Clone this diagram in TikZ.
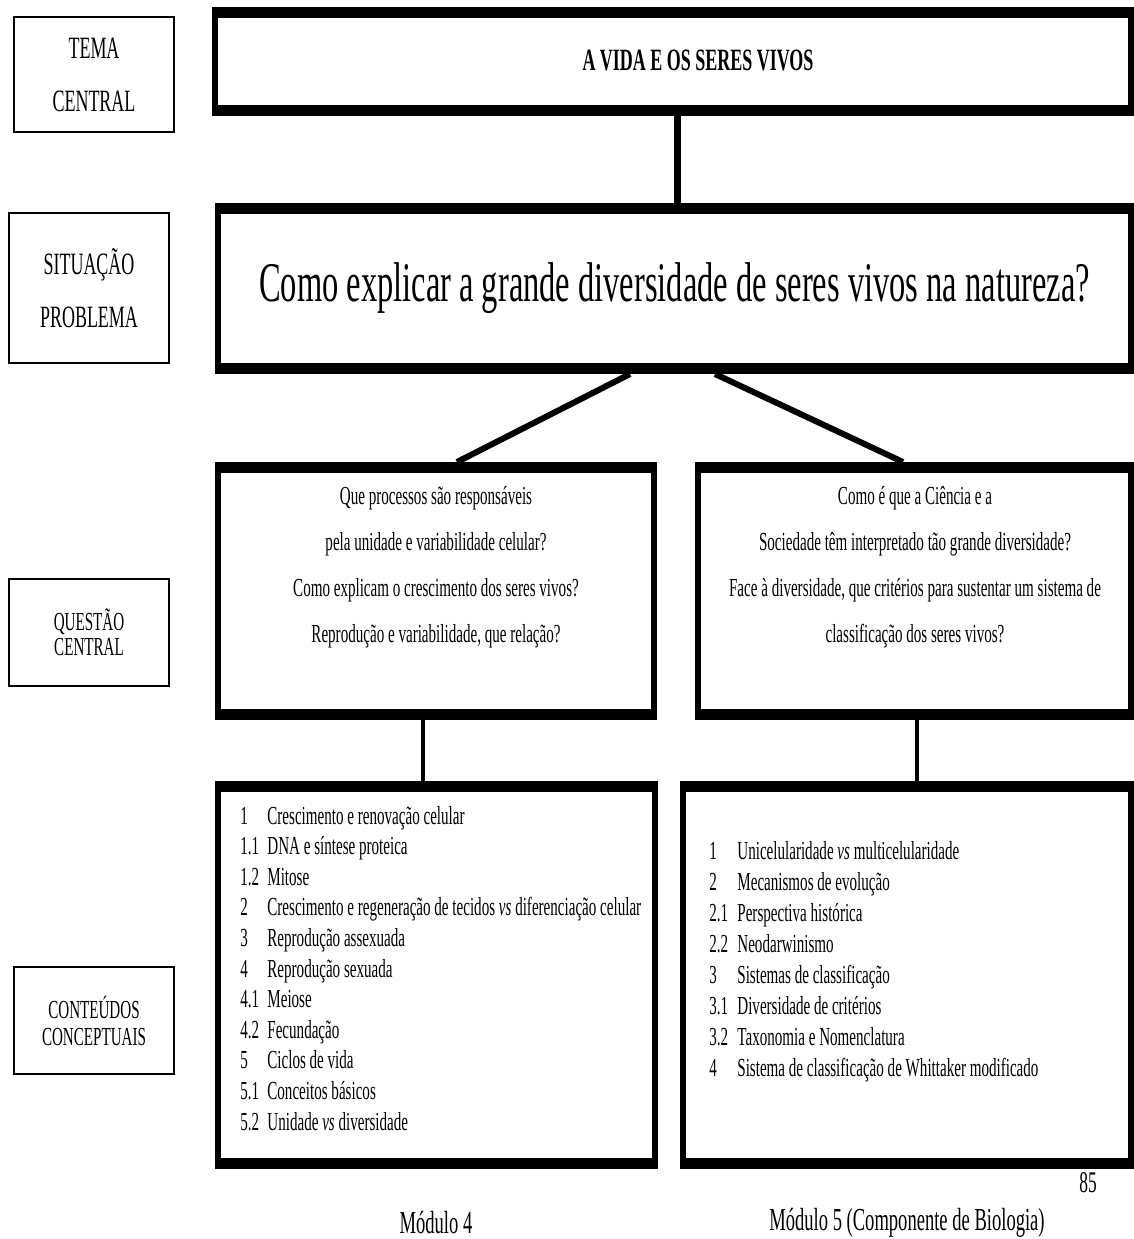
\documentclass[tikz,border=0pt]{standalone}
\usepackage{fontspec}
\setmainfont{Liberation Serif}[FakeStretch=0.58]

\tikzset{
  lbl/.style={draw, line width=1pt, inner sep=0pt, align=center, minimum width=80pt},
  thickbox/.style={draw, line width=3pt, inner sep=0pt, path picture={
      \fill (path picture bounding box.north west) rectangle ([yshift=-4pt]path picture bounding box.north east);
      \fill (path picture bounding box.south west) rectangle ([yshift=4pt]path picture bounding box.south east);}},
  qtext/.style={anchor=base, inner sep=0pt, font=\fontsize{13pt}{15pt}\selectfont},
  item/.style={anchor=base west, inner sep=0pt, font=\fontsize{13pt}{15pt}\selectfont},
  link/.style={line width=#1},
}

\begin{document}
\begin{tikzpicture}[x=0.5pt,y=-0.5pt]
\useasboundingbox (0,0) rectangle (1134,1239);

% labels on the left
\node[lbl, minimum height=57.5pt, font=\fontsize{15.5pt}{26.5pt}\selectfont] (tema) at (94,74.5) {TEMA\\CENTRAL};
\node[lbl, minimum height=75pt, font=\fontsize{15.5pt}{26.5pt}\selectfont] (situ) at (89,288) {SITUAÇÃO\\PROBLEMA};
\node[lbl, minimum height=53.5pt, font=\fontsize{13pt}{12.5pt}\selectfont] (quest) at (89,632.5) {QUESTÃO\\CENTRAL};
\node[lbl, minimum height=53.5pt, font=\fontsize{13pt}{13.5pt}\selectfont] (cont) at (94,1020.5) {CONTEÚDOS\\CONCEPTUAIS};

% main boxes
\node[thickbox, minimum width=458pt, minimum height=51.5pt] (vida) at (673,61.5) {};
\node[font=\fontsize{15.5pt}{17pt}\selectfont\bfseries] (vidatx) at (698,60) {A VIDA E OS SERES VIVOS};
\node[thickbox, minimum width=456.5pt, minimum height=82.5pt, font=\fontsize{28pt}{30pt}\selectfont] (prob) at (674.5,288.5) {Como explicar a grande diversidade de seres vivos na natureza?};
\node[thickbox, minimum width=218pt, minimum height=126pt] (qleft) at (436,591) {};
\node[thickbox, minimum width=216.5pt, minimum height=126pt] (qright) at (914.5,591) {};
\node[thickbox, minimum width=218.5pt, minimum height=191pt] (cleft) at (436.5,975) {};
\node[thickbox, minimum width=224pt, minimum height=191pt] (cright) at (907,975) {};

% connectors
\draw[link=3.5pt] ([xshift=2pt]vida.south) -- ([xshift=2pt]vida.south |- prob.north);
\draw[link=3pt] ([xshift=-22.25pt]prob.south) -- ([xshift=10.5pt]qleft.north);
\draw[link=3pt] ([xshift=20.25pt]prob.south) -- ([xshift=-5.75pt]qright.north);
\draw[link=2pt] ([xshift=-6.5pt]qleft.south) -- ([xshift=-6.5pt]qleft.south |- cleft.north);
\draw[link=2pt] ([xshift=1.25pt]qright.south) -- ([xshift=1.25pt]qright.south |- cright.north);

% questions
\foreach \tx [count=\k from 0] in {Que processos são responsáveis, pela unidade e variabilidade celular?,
    Como explicam o crescimento dos seres vivos?, {Reprodução e variabilidade, que relação?}}
  \node[qtext] (ql\k) at (436,504+46*\k) {\tx};
\foreach \tx [count=\k from 0] in {Como é que a Ciência e a, Sociedade têm interpretado tão grande diversidade?,
    Face à diversidade{,} que critérios para sustentar um sistema de, classificação dos seres vivos?}
  \node[qtext] (qr\k) at (915,504+46*\k) {\tx};

% contents, module 4
\foreach \nr/\tx [count=\k from 0] in {1/Crescimento e renovação celular, 1.1/DNA e síntese proteica, 1.2/Mitose,
    2/Crescimento e regeneração de tecidos \textit{vs} diferenciação celular, 3/Reprodução assexuada,
    4/Reprodução sexuada, 4.1/Meiose, 4.2/Fecundação, 5/Ciclos de vida, 5.1/Conceitos básicos,
    5.2/Unidade \textit{vs} diversidade}
{
  \node[item] (lnr\k) at (240,824+30.6*\k) {\nr};
  \node[item] (ltx\k) at (267,824+30.6*\k) {\tx};
}

% contents, module 5
\foreach \nr/\tx [count=\k from 0] in {1/Unicelularidade \textit{vs} multicelularidade, 2/Mecanismos de evolução,
    2.1/Perspectiva histórica, 2.2/Neodarwinismo, 3/Sistemas de classificação, 3.1/Diversidade de critérios,
    3.2/Taxonomia e Nomenclatura, 4/Sistema de classificação de Whittaker modificado}
{
  \node[item] (rnr\k) at (709,859+31*\k) {\nr};
  \node[item] (rtx\k) at (737,859+31*\k) {\tx};
}

\node[font=\fontsize{15pt}{17pt}\selectfont] (pag) at (1088,1183) {85};
\node[font=\fontsize{16pt}{18pt}\selectfont] (mod4) at (436,1223) {Módulo 4};
\node[font=\fontsize{16pt}{18pt}\selectfont] (mod5) at (907,1223) {Módulo 5 (Componente de Biologia)};

\end{tikzpicture}
\end{document}
